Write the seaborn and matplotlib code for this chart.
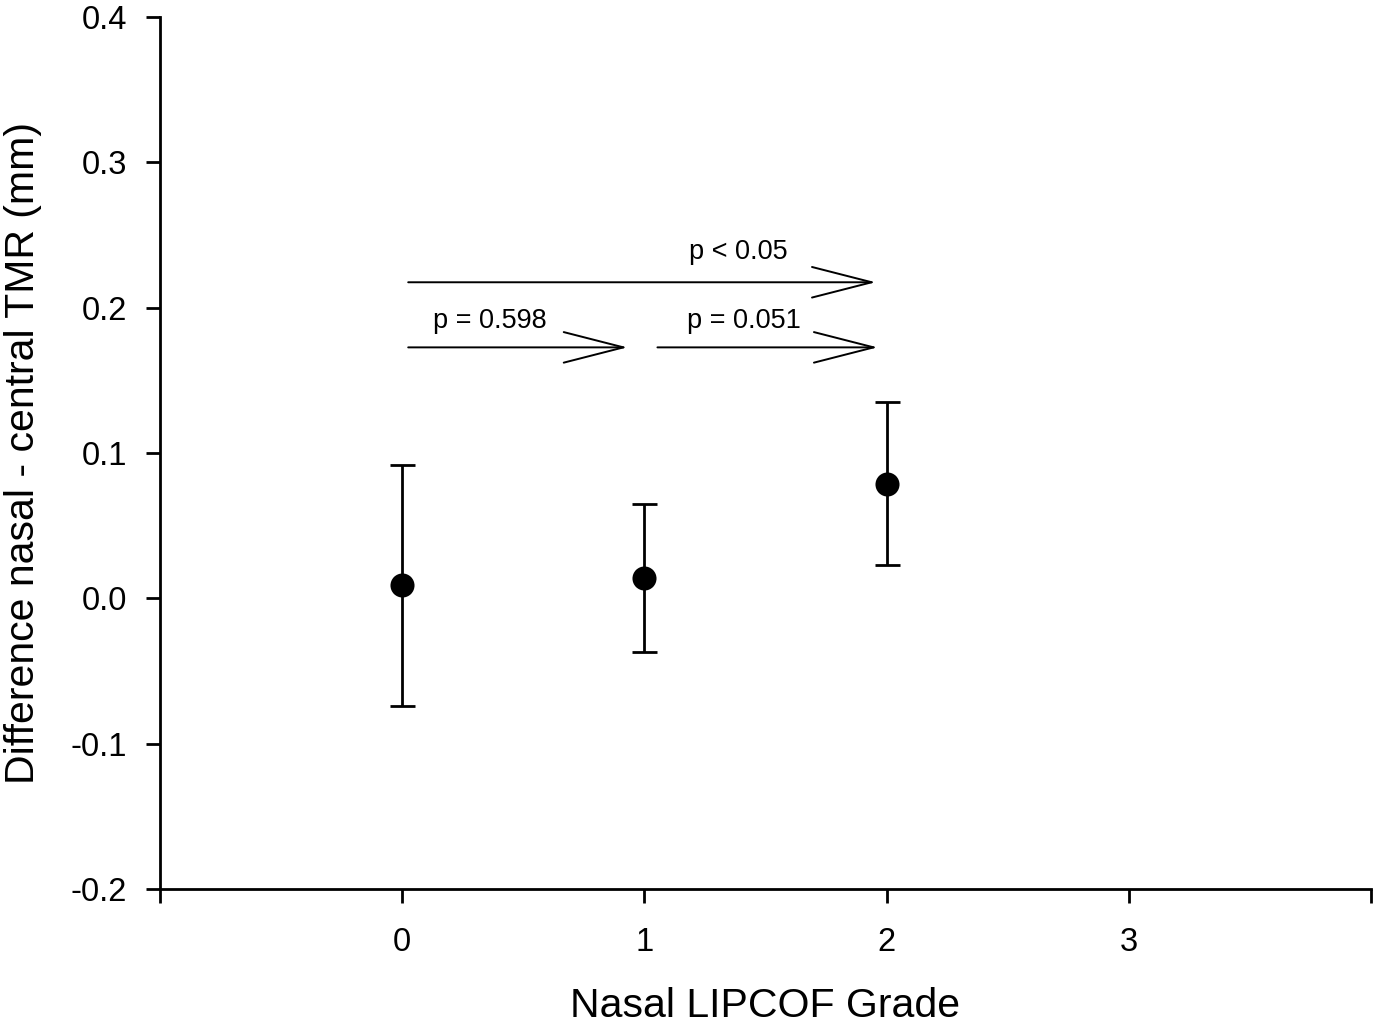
import pandas as pd
import matplotlib
matplotlib.use("Agg")
import matplotlib.pyplot as plt
import seaborn as sns

# values
grades = [0, 1, 2]
mean_diff = [0.009, 0.014, 0.079]
err_diff = [0.083, 0.051, 0.056]

comparisons = [
    # (x start, x end, y, label, label x, label y)
    (0.025, 1.955, 0.2175, "p < 0.05", 1.39, 0.238),
    (0.025, 0.93, 0.1727, "p = 0.598", 0.36, 0.1906),
    (1.054, 1.963, 0.1727, "p = 0.051", 1.41, 0.1906),
]

sns.set_theme(style="ticks")
plt.rcParams['font.family'] = ['Liberation Sans', 'DejaVu Sans']

df = pd.DataFrame({"grade": grades, "diff": mean_diff, "err": err_diff})

fig = plt.figure(figsize=(13.74, 10.26), dpi=100)
ax = fig.add_axes([0.1164, 0.1335, 0.8814, 0.8499])

ax.errorbar(df["grade"], df["diff"], yerr=df["err"], fmt="none",
            ecolor="black", elinewidth=2, capsize=9, capthick=2, zorder=2)
sns.scatterplot(x="grade", y="diff", data=df, color="black", s=300,
                edgecolor="black", linewidth=0, ax=ax, zorder=3)

for x0, x1, y, label, tx, ty in comparisons:
    ax.annotate("", xy=(x1, y), xytext=(x0, y),
                arrowprops=dict(arrowstyle="->,head_length=43,head_width=11",
                                mutation_scale=1, color="black", lw=1.4,
                                shrinkA=0, shrinkB=0))
    ax.text(tx, ty, label, ha="center", va="center", fontsize=19.5, color="black")

ax.set_xlim(-1, 4)
ax.set_ylim(-0.2, 0.4)
ax.set_xticks([-1, 0, 1, 2, 3, 4])
ax.set_xticklabels(["", "0", "1", "2", "3", ""])
ax.set_yticks([-0.2, -0.1, 0.0, 0.1, 0.2, 0.3, 0.4])
ax.set_yticklabels(["-0.2", "-0.1", "0.0", "0.1", "0.2", "0.3", "0.4"])
ax.tick_params(axis="both", direction="out", length=10, width=2, labelsize=23.5,
               colors="black")
ax.tick_params(axis="x", pad=17)
ax.tick_params(axis="y", pad=13.5)

for side in ["left", "bottom"]:
    ax.spines[side].set_linewidth(2)
    ax.spines[side].set_color("black")
sns.despine(ax=ax)

ax.set_xlabel("Nasal LIPCOF Grade", fontsize=29.5, labelpad=21, color="black")
ax.set_ylabel("Difference nasal - central TMR (mm)", fontsize=29.5, labelpad=21,
              color="black")

fig.savefig("out.png", dpi=100, facecolor="white")
